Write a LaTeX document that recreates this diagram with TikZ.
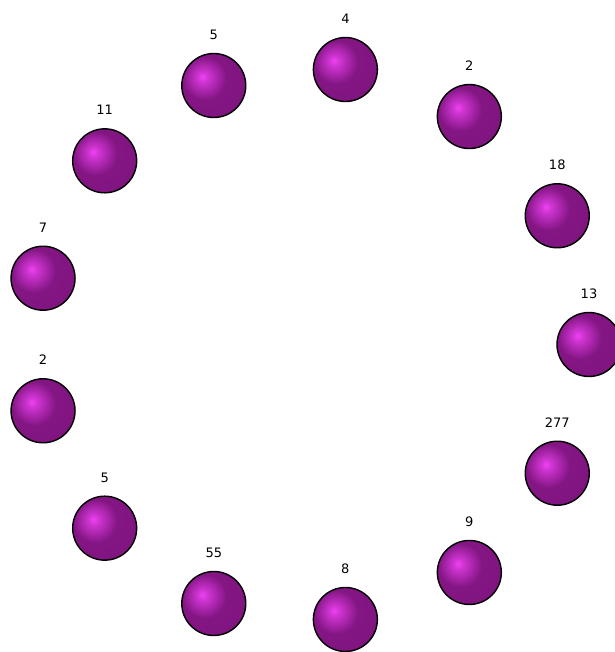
\documentclass[tikz,border=0pt]{standalone}
\usepackage{fontspec}
\setmainfont{DejaVu Sans}
\usetikzlibrary{positioning}
\definecolor{orbhi}{RGB}{240,66,244}
\definecolor{orbmid}{RGB}{132,22,132}
\definecolor{orbdark}{RGB}{88,8,88}
\pgfdeclareradialshading{orb}{\pgfpoint{-9bp}{7bp}}{color(0bp)=(orbhi); color(4bp)=(orbhi!70!orbmid); color(17bp)=(orbmid); color(45bp)=(orbmid!80!orbdark); color(62bp)=(orbdark); color(90bp)=(orbdark)}
\begin{document}
\begin{tikzpicture}[x=1pt, y=1pt, font=\fontsize{13}{15}\selectfont,
  ball/.style={circle, draw=black, line width=1.4pt, shading=orb, minimum size=64pt, inner sep=0pt},
  tag/.style={inner sep=0pt, text=black}]
  \useasboundingbox (-312,-307.5) rectangle (302,344.5);
  \foreach \val [count=\i from 0] in {13,277,9,8,55,5,2,7,11,5,4,2,18}{
    \node[ball] (ball\i) at ({-\i*360/13}:277) {};
    \node[tag, above=13pt of ball\i] (tag\i) {\val};
  }
\end{tikzpicture}
\end{document}
